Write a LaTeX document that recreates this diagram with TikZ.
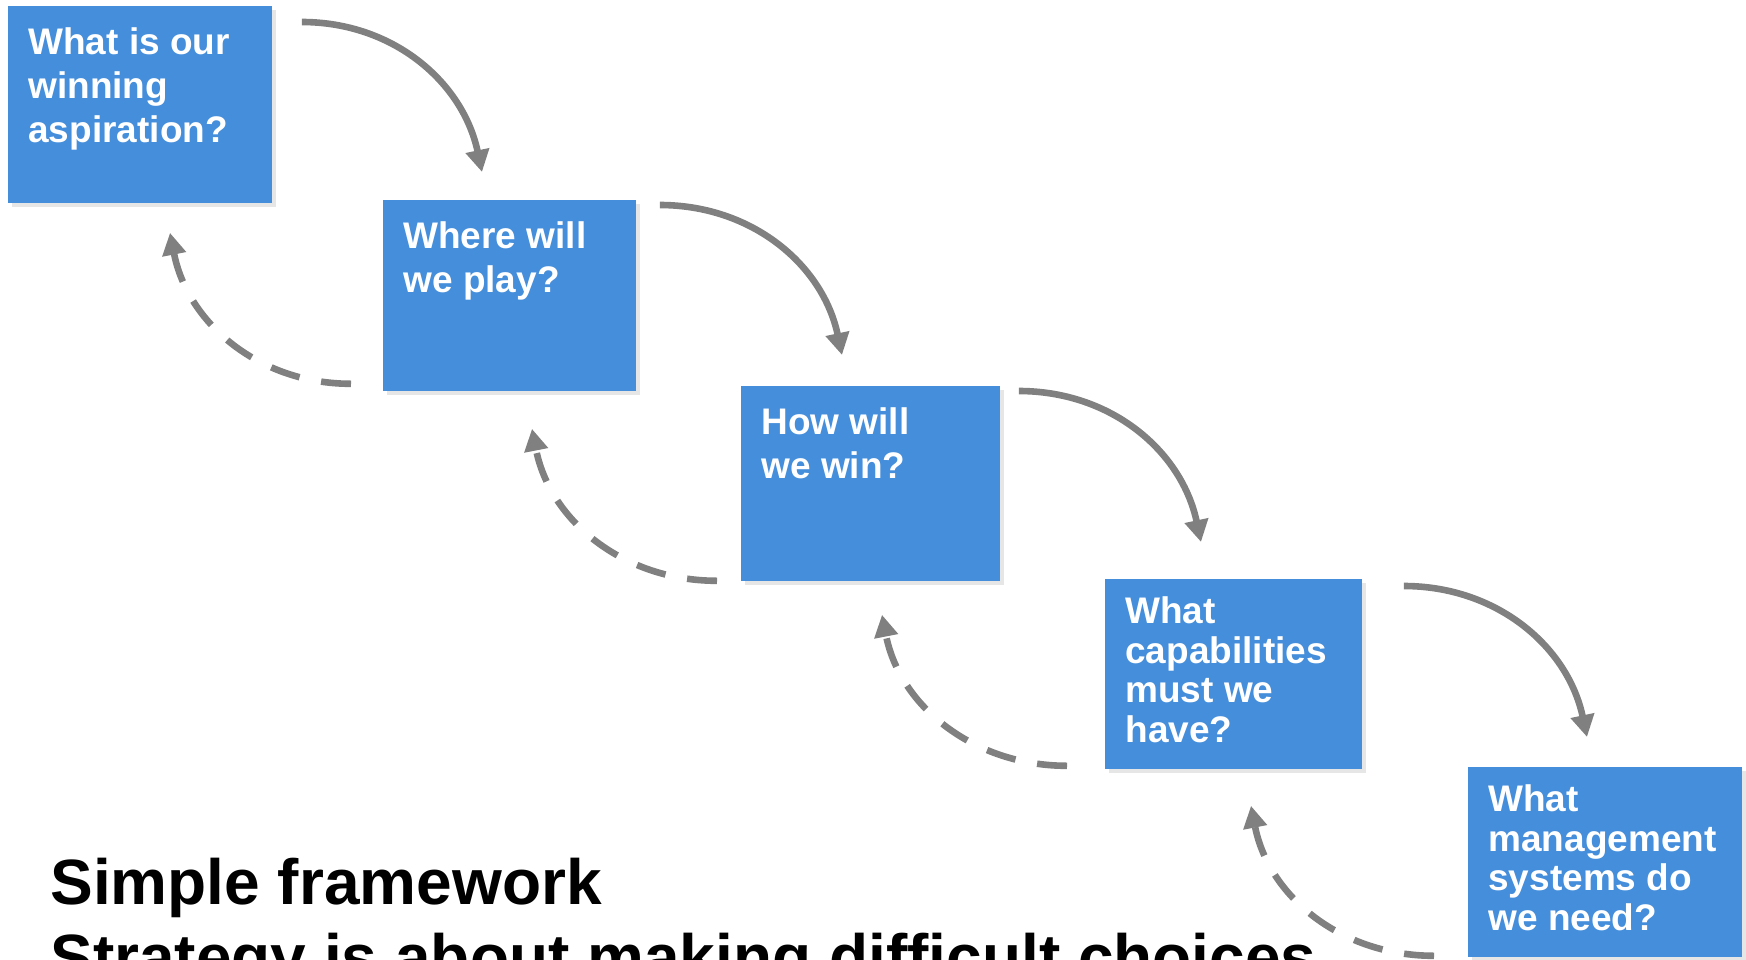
\documentclass[tikz,border=0pt]{standalone}
\usepackage{fontspec}
\setmainfont{Liberation Sans}
\usepackage{tikz}
\usetikzlibrary{arrows.meta}
\usetikzlibrary{shadows}

\definecolor{boxblue}{HTML}{448EDB}
\definecolor{arrowgray}{HTML}{808080}

\newcommand{\qtext}[3]{\parbox[t][#2][t]{#1}{\raggedright #3}}

\begin{document}
\begin{tikzpicture}[
  x=0.5pt, y=0.5pt,
  qbox/.style={fill=boxblue,anchor=north west,inner xsep=10pt,inner ysep=10.4pt,
    text=white,font=\fontsize{18.5}{22.2}\selectfont\bfseries,
    drop shadow={shadow xshift=2pt,shadow yshift=-2pt,opacity=.2}},
  tightbox/.style={qbox,inner ysep=8.7pt,font=\fontsize{18.5}{19.8}\selectfont\bfseries},
  fwd/.style={draw=arrowgray,line width=3.3pt,-{Triangle[width=11.5pt,length=11pt]}},
  back/.style={fwd,dash pattern=on 15pt off 11pt}
]
  \useasboundingbox (0,0) rectangle (1746,-959);

  \node[qbox] (aspire) at (8,-6) {\qtext{112pt}{77.7pt}{What is our\\winning\\aspiration?}};
  \node[qbox] (play) at (383,-200) {\qtext{106.5pt}{74.7pt}{Where will\\we play?}};
  \node[qbox] (win) at (741,-386) {\qtext{109.5pt}{76.7pt}{How will\\we win?}};
  \node[tightbox] (capab) at (1105,-579) {\qtext{108.5pt}{77.6pt}{What\\capabilities\\must we\\have?}};
  \node[tightbox] (mgmt) at (1468,-767) {\qtext{117pt}{77.6pt}{What\\management\\systems do\\we need?}};

  \node[anchor=base west,inner sep=0pt,font=\fontsize{32}{37.5}\selectfont\bfseries] (title) at (50,-904)
    {\parbox[t]{800pt}{Simple framework\\Strategy is about making difficult choices}};

  % forward cascade
  \draw[fwd] ([shift={(29,-16)}]aspire.north east) to[out=0,in=102] ([shift={(99,28)}]play.north west);
  \draw[fwd] ([shift={(23,-5)}]play.north east) to[out=0,in=102] ([shift={(101,31)}]win.north west);
  \draw[fwd] ([shift={(18,-5)}]win.north east) to[out=0,in=102] ([shift={(96,37)}]capab.north west);
  \draw[fwd] ([shift={(41,-7)}]capab.north east) to[out=0,in=102] ([shift={(119,30)}]mgmt.north west);

  % feedback loops
  \draw[back] ([shift={(-32,8)}]play.south west) to[out=180,in=-79] ([shift={(162,-29)}]aspire.south west);
  \draw[back] ([shift={(-24,1)}]win.south west) to[out=180,in=-79] ([shift={(149,-37)}]play.south west);
  \draw[back] ([shift={(-38,4)}]capab.south west) to[out=180,in=-79] ([shift={(141,-33)}]win.south west);
  \draw[back] ([shift={(-34,2)}]mgmt.south west) to[out=180,in=-79] ([shift={(146,-36)}]capab.south west);
\end{tikzpicture}
\end{document}
